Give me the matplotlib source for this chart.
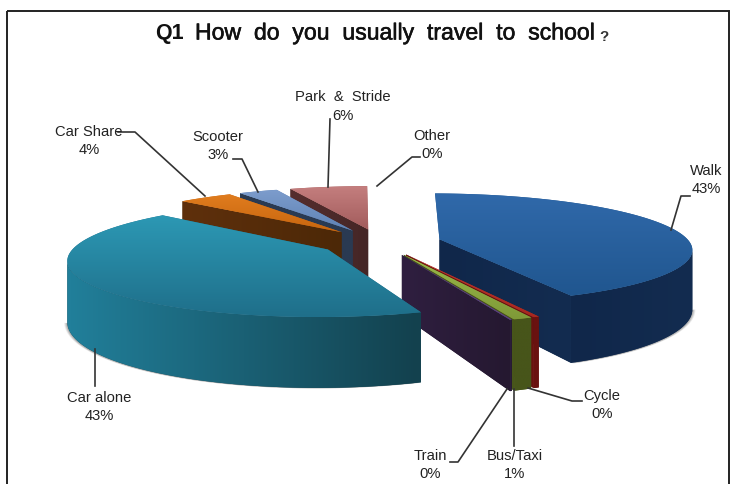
#!/bin/python3

import numpy as np
import matplotlib
matplotlib.use('Agg')
import matplotlib.pyplot as plt
import matplotlib.patheffects as pe
from matplotlib.colors import LinearSegmentedColormap
from matplotlib.patches import Polygon, Rectangle

plt.rcParams['font.family'] = ['Liberation Sans', 'DejaVu Sans']

categories = ['Walk', 'Cycle', 'Bus/Taxi', 'Train', 'Car alone', 'Car Share',
              'Scooter', 'Park & Stride', 'Other']
shares = [43.3, 0.3, 1, 0.1, 42.7, 4.2, 3, 6, 0.49]

# top face (back, front), side face (left, right)
top_cols = {
    'Walk': ('#3069aa', '#20568f'), 'Cycle': ('#c0392f', '#a8281f'),
    'Bus/Taxi': ('#9ab84a', '#7f9a38'), 'Train': ('#5a4080', '#5a4080'),
    'Car alone': ('#2c98b4', '#1f6f8a'), 'Car Share': ('#e07c1e', '#c8660f'),
    'Scooter': ('#7c9ccc', '#5f82b4'), 'Park & Stride': ('#c47e7e', '#a25c5c'),
}
side_cols = {
    'Walk': ('#10274a', '#132c50'), 'Cycle': ('#6a1210', '#6a1210'),
    'Bus/Taxi': ('#47551a', '#47551a'), 'Train': ('#2f1f40', '#251830'),
    'Car alone': ('#217f9a', '#13414e'), 'Car Share': ('#5f300c', '#4c2807'),
    'Scooter': ('#2a3a52', '#2a3a52'), 'Park & Stride': ('#552e2e', '#452626'),
}
# the Other slice is too thin to show in the picture
draw_order = ['Park & Stride', 'Scooter', 'Car Share', 'Walk',
              'Cycle', 'Bus/Taxi', 'Train', 'Car alone']

start_angle = 89
explode = 0.245
radius = 250
cx, cy = 380, 243
squash = 0.216
persp = 0.16
depth = 58


def project(x, y):
    f = 1 / (1 + persp * y)
    return cx + radius * x * f, cy - radius * squash * y * f


def drop(y):
    return depth / (1 + persp * y)


def shade(pts, cols, vertical, z):
    pts = np.array(pts)
    patch = Polygon(pts, closed=True, fc=cols[1], ec='none', zorder=z)
    ax.add_patch(patch)
    cmap = LinearSegmentedColormap.from_list('c', cols)
    g = np.linspace(0, 1, 64)
    g = g.reshape(-1, 1) if vertical else g.reshape(1, -1)
    ext = [pts[:, 0].min(), pts[:, 0].max(), pts[:, 1].max(), pts[:, 1].min()]
    im = ax.imshow(g, cmap=cmap, extent=ext, aspect='auto', zorder=z,
                   interpolation='bilinear', vmin=0, vmax=1)
    im.set_clip_path(patch)


fig = plt.figure(figsize=(7.38, 4.85), dpi=100)
ax = fig.add_axes([0, 0, 1, 1])

total = sum(shares)
slices = {}
a = start_angle
for name, v in zip(categories, shares):
    b = a - 360 * v / total
    slices[name] = (a, b)
    a = b

z = 5
for name in draw_order:
    a0, a1 = slices[name]
    mid = np.radians((a0 + a1) / 2)
    ox, oy = explode * np.cos(mid), explode * np.sin(mid)
    th = np.radians(np.linspace(a0, a1, 120))
    rx, ry = ox + np.cos(th), oy + np.sin(th)
    sx, sy = project(rx, ry)
    dd = drop(ry)
    ax_, ay_ = project(ox, oy)
    ad = drop(oy)

    # wall runs from the silhouette point round the front of the rim
    front = np.sin(th) < 0.2
    hi, lo = sx.argmax(), sx.argmin()
    if 0 < hi < len(th) - 1:
        front[:hi] = False
    if 0 < lo < len(th) - 1:
        front[lo + 1:] = False

    # soft shadow under the two big slices
    if name in ('Walk', 'Car alone'):
        for grow, al in zip((3, 2, 1), (0.12, 0.18, 0.25)):
            px = sx[front] + (grow if name == 'Walk' else -grow)
            py = sy[front] + dd[front] + 0.5
            ax.add_patch(Polygon(np.column_stack([px, py]), closed=True,
                                 fc='#555555', ec='none', alpha=al, zorder=z))
            z += 1

    # cut faces that look towards the viewer
    for edge, normal in ((0, a0 + 90), (-1, a1 - 90)):
        if np.sin(np.radians(normal)) < 0:
            pts = [(ax_, ay_), (sx[edge], sy[edge]),
                   (sx[edge], sy[edge] + dd[edge]), (ax_, ay_ + ad)]
            shade(pts, side_cols[name], False, z)
            z += 1

    if front.any():
        xs, ys, ds = sx[front], sy[front], dd[front]
        pts = list(zip(xs, ys)) + list(zip(xs[::-1], (ys + ds)[::-1]))
        shade(pts, side_cols[name], False, z)
        z += 1

    pts = [(ax_, ay_)] + list(zip(sx, sy))
    shade(pts, top_cols[name], True, z)
    z += 1

# leader lines
leaders = {
    'Walk': [(671, 231), (681, 197), (690, 197)],
    'Cycle': [(528, 389), (572, 402), (582, 402)],
    'Bus/Taxi': [(514, 390), (514, 447)],
    'Train': [(507, 390), (458, 463), (450, 463)],
    'Car alone': [(95, 350), (95, 387)],
    'Car Share': [(118, 133), (135, 133), (205, 197)],
    'Scooter': [(233, 160), (242, 160), (258, 193)],
    'Park & Stride': [(330, 120), (328, 188)],
    'Other': [(377, 187), (412, 158), (420, 158)],
}
for name, line in leaders.items():
    ax.plot(*zip(*line), color='#333333', lw=1.2, zorder=z)

label_pos = {
    'Walk': (706, 171), 'Cycle': (602, 396), 'Bus/Taxi': (515, 456),
    'Train': (430, 456), 'Car alone': (99, 398), 'Car Share': (89, 132),
    'Scooter': (218, 137), 'Park & Stride': (343, 97), 'Other': (432, 136),
}
for name, v in zip(categories, shares):
    x, y = label_pos[name]
    ax.text(x, y, name.replace(' & ', '  &  '), ha='center', va='center',
            fontsize=10.6, color='#222222', zorder=z + 1)
    ax.text(x, y + 18.5, f'{round(v)}%', ha='center', va='center',
            fontsize=10.6, color='#222222', zorder=z + 1)

ax.text(155, 34, 'Q1', ha='left', va='center', fontsize=15.5, fontweight='bold', color='#111111')
ax.text(195, 34, 'How  do  you  usually  travel  to  school', ha='left', va='center',
        fontsize=16.6, color='#111111',
        path_effects=[pe.withStroke(linewidth=0.4, foreground='#111111')])
ax.text(604, 37, '?', ha='center', va='center', fontsize=11,
        fontweight='bold', color='#333333')

ax.add_patch(Rectangle((7, 12), 722, 500, fc='none', ec='#222222', lw=1.4, zorder=z + 2))

ax.set_xlim(0, 738)
ax.set_ylim(485, 0)
ax.axis('off')
fig.savefig('out.png', dpi=100)
